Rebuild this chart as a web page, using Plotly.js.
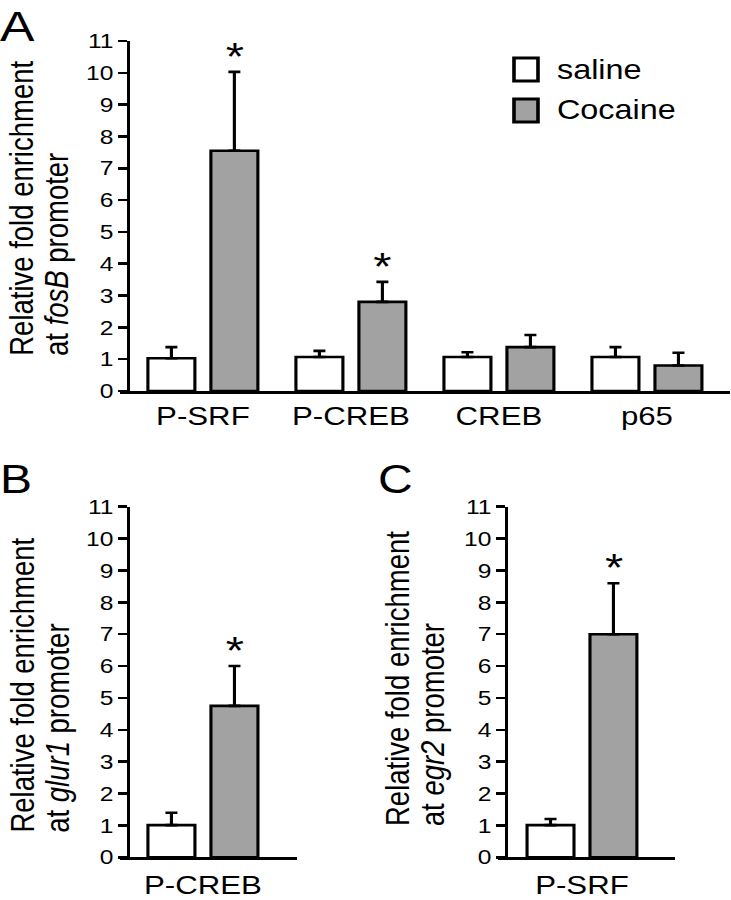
<!DOCTYPE html>
<html>
<head>
<meta charset="utf-8">
<script src="https://cdn.plot.ly/plotly-3.0.1.min.js"></script>
<style>
  html, body { margin: 0; padding: 0; background: #ffffff; overflow: hidden; }
  #wrap { width: 731px; height: 900px; overflow: hidden; }
  #chart { width: 609px; height: 900px; transform: scaleX(1.2003); transform-origin: 0 0; }
</style>
</head>
<body>
<div id="wrap"><div id="chart"></div></div>
<script>
// ---------- data ----------
const seriesNames = ['saline', 'Cocaine'];
const yTitleLine1 = 'Relative fold enrichment';

// Panel A: fosB promoter
const categoriesA = ['P-SRF', 'P-CREB', 'CREB', 'p65'];
const salineA = [1.03, 1.07, 1.07, 1.07];
const salineErrA = [0.35, 0.19, 0.15, 0.31];
const cocaineA = [7.55, 2.8, 1.38, 0.8];
const cocaineErrA = [2.48, 0.63, 0.38, 0.4];
const sigA = [true, true, false, false];
const titleLine2A = 'at <i>fosB</i> promoter';

// Panel B: glur1 promoter
const categoriesB = ['P-CREB'];
const salineB = [1.01];
const salineErrB = [0.39];
const cocaineB = [4.75];
const cocaineErrB = [1.25];
const sigB = [true];
const titleLine2B = 'at <i>glur1</i> promoter';

// Panel C: egr2 promoter
const categoriesC = ['P-SRF'];
const salineC = [1.01];
const salineErrC = [0.19];
const cocaineC = [7.0];
const cocaineErrC = [1.6];
const sigC = [true];
const titleLine2C = 'at <i>egr2</i> promoter';

const yTickVals = [0,1,2,3,4,5,6,7,8,9,10,11];

// ---------- styles ----------
const FONT = 'Liberation Sans, Arial, Helvetica, sans-serif';
const fillColors = ['#ffffff', '#a2a2a2'];
const BARGAP = 0.149, BARGROUPGAP = 0.254;
const cocOffset = (1 - BARGAP) / 4;

function barPair(cats, sal, salE, coc, cocE, xa, ya) {
  const mk = (name, vals, errs, color) => ({
    type: 'bar', name: name, x: cats, y: vals, xaxis: xa, yaxis: ya,
    marker: { color: color, line: { color: '#000', width: 2.6 } },
    error_y: { type: 'data', symmetric: false, array: errs, arrayminus: errs.map(() => 0),
               color: '#000', thickness: 2.6, width: 5 },
    showlegend: false, hoverinfo: 'skip'
  });
  return [mk(seriesNames[0], sal, salE, fillColors[0]), mk(seriesNames[1], coc, cocE, fillColors[1])];
}

const data = [
  ...barPair(categoriesA, salineA, salineErrA, cocaineA, cocaineErrA, 'x', 'y'),
  ...barPair(categoriesB, salineB, salineErrB, cocaineB, cocaineErrB, 'x2', 'y2'),
  ...barPair(categoriesC, salineC, salineErrC, cocaineC, cocaineErrC, 'x3', 'y3'),
];

function stars(cats, coc, cocE, sig, xr, yr) {
  const out = [];
  cats.forEach((c, i) => {
    if (!sig[i]) return;
    out.push({ xref: xr, yref: yr, x: i + cocOffset, y: coc[i] + cocE[i], text: '*',
      showarrow: false, yanchor: 'bottom', xanchor: 'center', yshift: -8,
      font: { family: FONT, size: 39, color: '#000' } });
  });
  return out;
}

// rotated two-line y titles (left-aligned lines, as in the figure)
function yTitle(line2, xc1, xc2, yStart) {
  const f = { family: FONT, size: 27.5, color: '#000' };
  return [
    { xref: 'paper', yref: 'paper', x: xc1 / 731, y: 1 - yStart / 900, xanchor: 'center', yanchor: 'bottom',
      textangle: -90, text: yTitleLine1, showarrow: false, font: f },
    { xref: 'paper', yref: 'paper', x: xc2 / 731, y: 1 - yStart / 900, xanchor: 'center', yanchor: 'bottom',
      textangle: -90, text: line2, showarrow: false, font: f },
  ];
}

const xBase = { type: 'category', showline: true, linecolor: '#000', linewidth: 3, ticks: '',
  showgrid: false, zeroline: false, tickfont: { family: FONT, size: 26, color: '#000' }, fixedrange: true };
const yBase = { range: [0, 11], tickvals: yTickVals, showline: true, linecolor: '#000', linewidth: 2.6,
  ticks: 'outside', ticklen: 7, tickwidth: 2.6, tickcolor: '#000', showgrid: false, zeroline: false,
  tickfont: { family: FONT, size: 20.5, color: '#000' }, anchor: 'free', fixedrange: true };

const layout = {
  width: 609, height: 900,
  margin: { l: 0, r: 0, t: 0, b: 0 },
  paper_bgcolor: '#fff', plot_bgcolor: 'rgba(0,0,0,0)',
  barmode: 'group', bargap: BARGAP, bargroupgap: BARGROUPGAP,
  showlegend: false,
  font: { family: FONT, color: '#000' },
  xaxis: Object.assign({}, xBase, { domain: [120/731, 730/731], range: [-0.56, 3.561], anchor: 'y', ticklabelstandoff: 0 }),
  yaxis: Object.assign({}, yBase, { domain: [1 - 391/900, 1 - 41/900], position: 128/731 }),
  xaxis2: Object.assign({}, xBase, { domain: [120/731, 297/731], range: [-0.56, 0.635], anchor: 'y2', ticklabelstandoff: 3 }),
  yaxis2: Object.assign({}, yBase, { domain: [1 - 857.3/900, 1 - 506.7/900], position: 128/731 }),
  xaxis3: Object.assign({}, xBase, { domain: [498/731, 675/731], range: [-0.568, 0.629], anchor: 'y3', ticklabelstandoff: 3 }),
  yaxis3: Object.assign({}, yBase, { domain: [1 - 857.3/900, 1 - 506.7/900], position: 506/731 }),
  shapes: [
    { type: 'rect', xref: 'paper', yref: 'paper', x0: 514/731, x1: 538/731, y0: 1 - 81/900, y1: 1 - 58/900,
      fillcolor: fillColors[0], line: { color: '#000', width: 3 } },
    { type: 'rect', xref: 'paper', yref: 'paper', x0: 514/731, x1: 538/731, y0: 1 - 122/900, y1: 1 - 99/900,
      fillcolor: fillColors[1], line: { color: '#000', width: 3 } }
  ],
  annotations: [
    { xref: 'paper', yref: 'paper', x: 555/731, y: 1 - 70/900, xanchor: 'left', yanchor: 'middle',
      text: seriesNames[0], showarrow: false, font: { family: FONT, size: 27, color: '#000' } },
    { xref: 'paper', yref: 'paper', x: 555/731, y: 1 - 110/900, xanchor: 'left', yanchor: 'middle',
      text: seriesNames[1], showarrow: false, font: { family: FONT, size: 27, color: '#000' } },
    { xref: 'paper', yref: 'paper', x: -2/731, y: 1, xanchor: 'left', yanchor: 'top', text: 'A',
      showarrow: false, font: { family: FONT, size: 43, color: '#000' } },
    { xref: 'paper', yref: 'paper', x: -2/731, y: 1 - 455/900, xanchor: 'left', yanchor: 'top', text: 'B',
      showarrow: false, font: { family: FONT, size: 40, color: '#000' } },
    { xref: 'paper', yref: 'paper', x: 376/731, y: 1 - 455/900, xanchor: 'left', yanchor: 'top', text: 'C',
      showarrow: false, font: { family: FONT, size: 40, color: '#000' } },
    ...yTitle(titleLine2A, 22, 57, 358),
    ...yTitle(titleLine2B, 23, 58, 835),
    ...yTitle(titleLine2C, 398, 433, 828),
    ...stars(categoriesA, cocaineA, cocaineErrA, sigA, 'x', 'y'),
    ...stars(categoriesB, cocaineB, cocaineErrB, sigB, 'x2', 'y2'),
    ...stars(categoriesC, cocaineC, cocaineErrC, sigC, 'x3', 'y3'),
  ]
};

Plotly.newPlot('chart', data, layout, { displayModeBar: false, staticPlot: true });
</script>
</body>
</html>
